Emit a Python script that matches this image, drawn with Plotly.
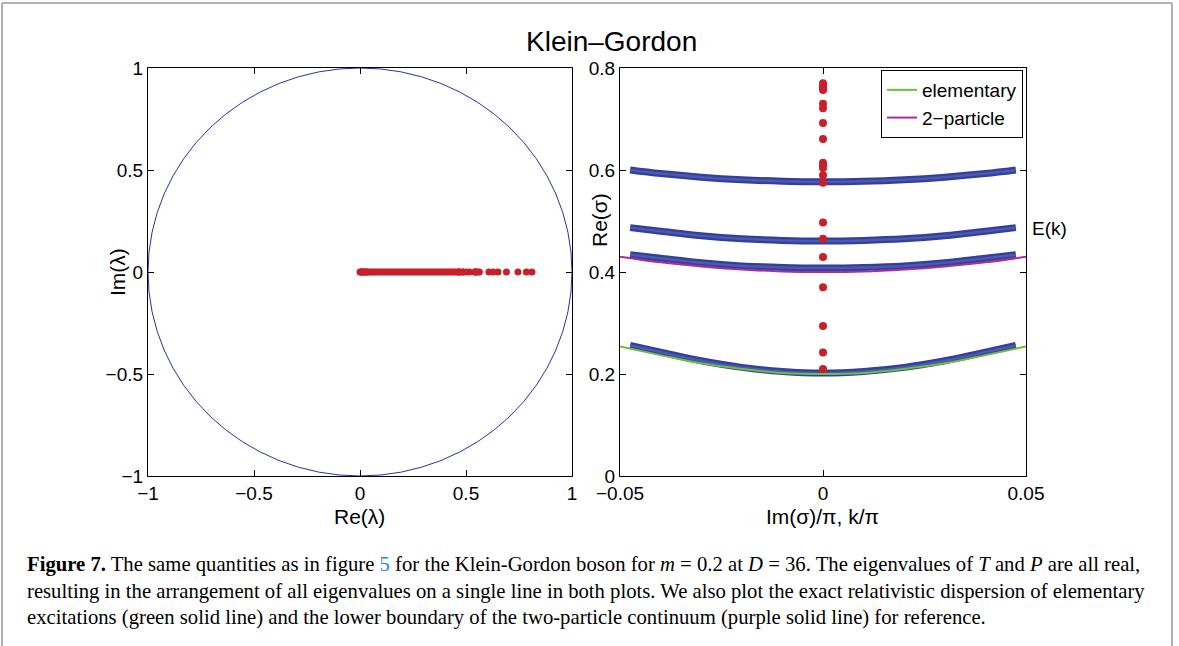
import plotly.graph_objects as go

# ---------------- data ----------------
# left panel: eigenvalues lambda of the transfer matrix (all real, Im = 0)
lam_re = [0.0, 0.004, 0.008, 0.012, 0.016, 0.02, 0.025, 0.03, 0.035, 0.04, 0.05, 0.06,
          0.07, 0.08, 0.09, 0.10, 0.11, 0.12, 0.13, 0.14, 0.15, 0.16, 0.17, 0.18,
          0.19, 0.20, 0.21, 0.22, 0.23, 0.24, 0.25, 0.26, 0.27, 0.28, 0.29, 0.30,
          0.31, 0.32, 0.33, 0.34, 0.35, 0.36, 0.37, 0.38, 0.39, 0.40, 0.41, 0.42,
          0.43, 0.44, 0.45, 0.463, 0.465, 0.467, 0.469, 0.482, 0.486, 0.501, 0.516,
          0.541, 0.544, 0.547, 0.555, 0.563, 0.608, 0.628, 0.651, 0.691, 0.745,
          0.785, 0.811]
lam_im = [0.0] * len(lam_re)
circle_radius = 1.0

# right panel: Re(sigma) of eigenvalues (at Im = 0)
sig_re = [0.770, 0.7655, 0.7616, 0.757, 0.730, 0.721, 0.692, 0.661, 0.614, 0.6096,
          0.604, 0.5895, 0.575, 0.497, 0.465, 0.4296, 0.370, 0.294, 0.242, 0.210]
sig_im = [0.0] * len(sig_re)

# dispersion bands from momentum eigenstates
k_band = [-0.0475, -0.04, -0.03, -0.02, -0.01, 0.0, 0.01, 0.02, 0.03, 0.04, 0.0475]
band1 = [0.600, 0.593, 0.586, 0.581, 0.578, 0.577, 0.578, 0.581, 0.586, 0.593, 0.600]
band2 = [0.487, 0.480, 0.471, 0.465, 0.462, 0.461, 0.462, 0.465, 0.471, 0.480, 0.487]
band3 = [0.434, 0.427, 0.418, 0.412, 0.409, 0.408, 0.409, 0.412, 0.418, 0.427, 0.434]
band4 = [0.256, 0.243, 0.226, 0.213, 0.205, 0.202, 0.205, 0.213, 0.226, 0.243, 0.256]

# exact reference curves
k_line = [-0.05, -0.04, -0.03, -0.02, -0.01, 0.0, 0.01, 0.02, 0.03, 0.04, 0.05]
elementary = [0.254, 0.237, 0.221, 0.210, 0.202, 0.200, 0.202, 0.210, 0.221, 0.237, 0.254]
two_particle = [0.430, 0.419, 0.411, 0.405, 0.401, 0.400, 0.401, 0.405, 0.411, 0.419, 0.430]

left_ticks = [-1, -0.5, 0, 0.5, 1]
left_ticklabels = ["\u22121", "\u22120.5", "0", "0.5", "1"]
rx_ticks = [-0.05, 0, 0.05]
rx_ticklabels = ["\u22120.05", "0", "0.05"]
ry_ticks = [0, 0.2, 0.4, 0.6, 0.8]
ry_ticklabels = ["0", "0.2", "0.4", "0.6", "0.8"]

# ---------------- figure ----------------
W, H = 1179, 646
def px(x):
    return x / W
def py(y):
    return 1 - y / H

FONT = "Liberation Sans, Arial, sans-serif"
RED = "#c8202a"
BLUE = "#333f9c"
BLUE_IN = "#4c59ae"
GREEN = "#6cbf3a"
PURPLE = "#a8309a"

fig = go.Figure()

fig.add_trace(go.Scatter(x=lam_re, y=lam_im, mode="markers", xaxis="x", yaxis="y",
                         marker=dict(color=RED, size=7, line=dict(width=0)),
                         showlegend=False, hoverinfo="skip"))

for band in [band1, band2, band3, band4]:
    fig.add_trace(go.Scatter(x=k_band, y=band, mode="lines", xaxis="x2", yaxis="y2",
                             line=dict(color=BLUE, width=7, shape="spline"),
                             showlegend=False, hoverinfo="skip"))
    fig.add_trace(go.Scatter(x=k_band, y=band, mode="lines", xaxis="x2", yaxis="y2",
                             line=dict(color=BLUE_IN, width=2.5, shape="spline"),
                             showlegend=False, hoverinfo="skip"))

fig.add_trace(go.Scatter(x=k_line, y=elementary, mode="lines", xaxis="x2", yaxis="y2",
                         line=dict(color=GREEN, width=2, shape="spline"),
                         name="elementary"))
fig.add_trace(go.Scatter(x=k_line, y=two_particle, mode="lines", xaxis="x2", yaxis="y2",
                         line=dict(color=PURPLE, width=2, shape="spline"),
                         name="2\u2212particle"))

fig.add_trace(go.Scatter(x=sig_im, y=sig_re, mode="markers", xaxis="x2", yaxis="y2",
                         marker=dict(color=RED, size=8, line=dict(width=0)),
                         showlegend=False, hoverinfo="skip"))

ax_common = dict(showgrid=False, zeroline=False, showline=True, linecolor="black",
                 linewidth=1.3, ticks="inside", ticklen=6, tickwidth=1, tickcolor="black",
                 mirror="ticks", automargin=False,
                 tickfont=dict(family=FONT, size=19, color="black"))

left_dom = [px(148), px(572)]
right_dom = [px(620), px(1026)]
ydom = [py(476), py(68)]

fig.update_layout(
    width=W, height=H,
    margin=dict(l=0, r=0, t=0, b=0, pad=0, autoexpand=False),
    paper_bgcolor="white", plot_bgcolor="white",
    font=dict(family=FONT, color="black"),
    xaxis=dict(domain=left_dom, range=[-1, 1], anchor="y", tickvals=left_ticks,
               ticktext=left_ticklabels, **ax_common),
    yaxis=dict(domain=ydom, range=[-1, 1], anchor="x", tickvals=left_ticks,
               ticktext=left_ticklabels, **ax_common),
    xaxis2=dict(domain=right_dom, range=[-0.05, 0.05], anchor="y2", tickvals=rx_ticks,
                ticktext=rx_ticklabels, **ax_common),
    yaxis2=dict(domain=ydom, range=[0, 0.8], anchor="x2", tickvals=ry_ticks,
                ticktext=ry_ticklabels, **ax_common),
    yaxis3=dict(overlaying="y2", side="right", anchor="x2", range=[0, 0.8],
                tickvals=ry_ticks, ticktext=ry_ticklabels, showgrid=False, zeroline=False,
                showline=False, ticks="", automargin=False,
                tickfont=dict(family=FONT, size=19, color="black")),
    legend=dict(x=px(1023), y=py(70), xanchor="right", yanchor="top",
                bgcolor="white", bordercolor="black", borderwidth=1,
                font=dict(family=FONT, size=19, color="black"),
                tracegroupgap=0, itemwidth=30),
    showlegend=True,
)

# unit circle in the left panel
fig.add_shape(type="circle", xref="x", yref="y",
              x0=-circle_radius, y0=-circle_radius, x1=circle_radius, y1=circle_radius,
              line=dict(color="#2f2f9e", width=1), layer="below")

# outer gray frame
for (x0, y0, x1, y1) in [(2, 3, 1172, 3), (2, 3, 2, 646), (1172, 3, 1172, 646)]:
    fig.add_shape(type="line", xref="paper", yref="paper",
                  x0=px(x0), y0=py(y0), x1=px(x1), y1=py(y1),
                  line=dict(color="#9a9a9a", width=1.5))

def ann(text, x, y, size=21, angle=0, xanchor="center", family=FONT):
    fig.add_annotation(text=text, x=px(x), y=py(y), xref="paper", yref="paper",
                       showarrow=False, textangle=angle, xanchor=xanchor,
                       yanchor="middle", font=dict(family=family, size=size, color="black"))

ann("Klein\u2013Gordon", 611, 42, size=28)
ann("Re(\u03bb)", 359, 516)
ann("Im(\u03bb)", 117, 272, angle=-90)
ann("Re(\u03c3)", 600, 220, angle=-90)
ann("Im(\u03c3)/\u03c0, k/\u03c0", 822, 516)
ann("E(k)", 1030, 228, size=19, xanchor="left")

SERIF = "Liberation Serif, Times New Roman, serif"
cap1 = ("<b>Figure 7.</b> The same quantities as in figure <span style='color:#2f86c6'>5</span> "
        "for the Klein-Gordon boson for <i>m</i> = 0.2 at <i>D</i> = 36. The eigenvalues of "
        "<i>T</i> and <i>P</i> are all real,")
cap2 = ("resulting in the arrangement of all eigenvalues on a single line in both plots. "
        "We also plot the exact relativistic dispersion of elementary")
cap3 = ("excitations (green solid line) and the lower boundary of the two-particle continuum "
        "(purple solid line) for reference.")
ann(cap1, 25, 564, size=20.7, xanchor="left", family=SERIF)
ann(cap2, 25, 591, size=20.7, xanchor="left", family=SERIF)
ann(cap3, 25, 617, size=20.7, xanchor="left", family=SERIF)

fig.write_html("out.html", config={"displayModeBar": False},
               post_script="document.body.style.margin='0px';document.body.style.overflow='hidden';")
